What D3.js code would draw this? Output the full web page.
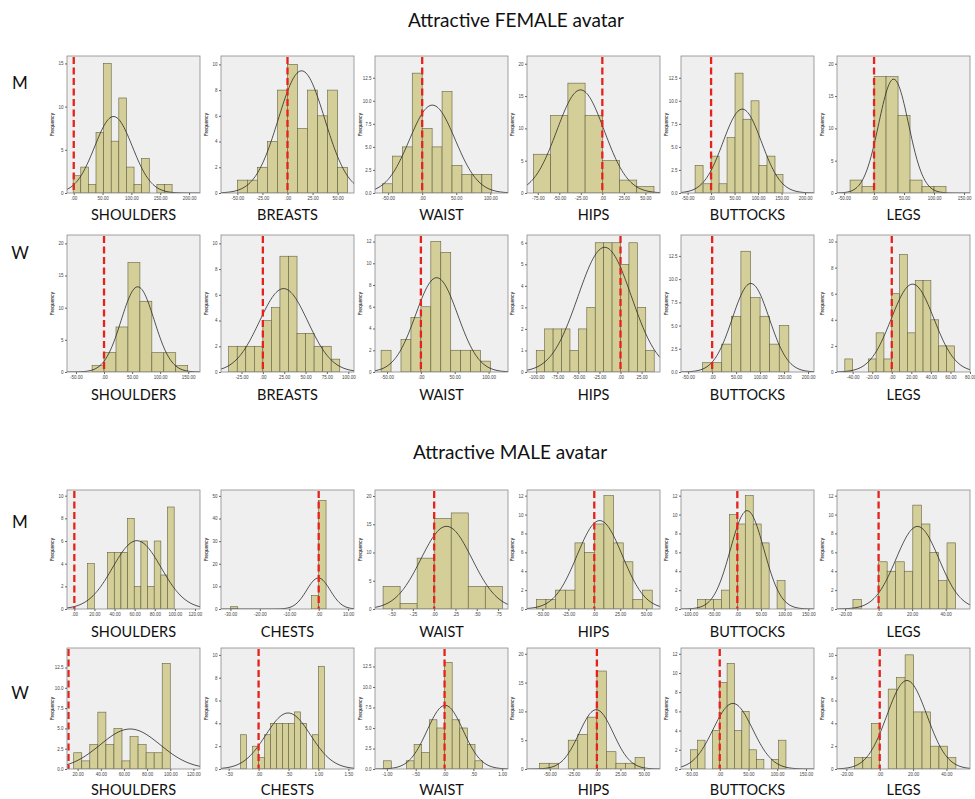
<!DOCTYPE html>
<html>
<head>
<meta charset="utf-8">
<script src="https://cdn.jsdelivr.net/npm/d3@7"></script>
<style>
  body { margin: 0; background: #fff; }
  svg { display: block; font-family: Lato, "Open Sans", sans-serif; }
  .tick text { fill: #444; }
</style>
</head>
<body>
<svg id="chart" width="975" height="799"></svg>
<script>
(function () {
  "use strict";

  // --- data (rows: female avatar M, W; male avatar M, W) ---
  var titles = ["Attractive FEMALE avatar", "Attractive MALE avatar"];
  var raters = ["M", "W", "M", "W"];
  var femaleParts = ["SHOULDERS", "BREASTS", "WAIST", "HIPS", "BUTTOCKS", "LEGS"];
  var maleParts = ["SHOULDERS", "CHESTS", "WAIST", "HIPS", "BUTTOCKS", "LEGS"];
  var partsByRow = [femaleParts, femaleParts, maleParts, maleParts];

  var binStart = [
    [-1, -50, -58.4, -80, -34, -40],
    [-21.3, -40, -58.8, -100, -20, -48],
    [13.24, -30, -0.6, -55.8, -84, -15.3],
    [16.6, -0.3, -1.056, -60.9, -51.2, -15.2]
  ];
  var binWidth = [
    [13.2, 10, 14.6, 20, 17, 20],
    [21.3, 10, 14.7, 10, 20, 8],
    [6.62, 2.5, 0.2, 9.3, 16.8, 5.1],
    [6.95, 0.1, 0.132, 10.15, 12.8, 5.07]
  ];
  var counts = [
    [
      [2, 3, 1, 7, 15, 6, 11, 3, 1, 4, 0, 1, 1],
      [1, 1, 2, 4, 8, 10, 5, 8, 6, 8, 2],
      [1, 4, 5, 13, 7, 5, 11, 3, 2, 2, 2],
      [6, 12, 17, 12, 5, 2, 1],
      [3, 1, 4, 1, 6, 13, 8, 10, 3, 4, 2],
      [2, 1, 18, 18, 12, 2, 1, 1]
    ],
    [
      [1, 3, 7, 17, 11, 3, 3, 1],
      [2, 2, 2, 2, 4, 5, 9, 9, 3, 3, 2, 2, 1],
      [2, 0, 3, 5, 6, 12, 11, 2, 2, 2, 1],
      [1, 2, 2, 2, 1, 2, 3, 6, 6, 6, 5, 6, 3, 1],
      [1, 1, 3, 6, 13, 8, 6, 3, 5],
      [1, 0, 0, 1, 3, 1, 6, 9, 3, 7, 7, 4, 2, 2]
    ],
    [
      [4, 0, 0, 5, 5, 5, 8, 2, 6, 2, 6, 3, 9],
      [1, 0, 0, 0, 0, 0, 0, 0, 0, 0, 0, 6, 48],
      [4, 1, 9, 16, 17, 4, 4],
      [1, 1, 2, 2, 7, 6, 9, 12, 7, 5, 1, 2],
      [1, 1, 1, 2, 10, 9, 12, 9, 7, 0, 3],
      [1, 0, 0, 5, 4, 5, 4, 11, 9, 6, 3, 7]
    ],
    [
      [2, 1, 3, 7, 3, 5, 1, 4, 3, 2, 2, 13],
      [3, 0, 2, 1, 3, 4, 4, 4, 4, 5, 4, 0, 3, 9],
      [1, 0, 0, 1, 3, 2, 6, 5, 13, 6, 5, 3, 1],
      [1, 1, 0, 5, 6, 9, 17, 3, 1, 1, 2],
      [2, 3, 0, 4, 9, 11, 4, 6, 2, 1, 0, 1, 3],
      [1, 1, 4, 0, 7, 8, 10, 5, 5, 2, 2, 1]
    ]
  ];
  // fitted normal curve: mean, sd
  var fitMean = [
    [69, 14, 14.9, -25.3, 66.4, 32.6],
    [60, 24.3, 23.3, -18.75, 80.6, 21.3],
    [62.2, -0.1, 0.145, 5.2, 20.8, 23.2],
    [65.4, 0.494, 0.01, -0.7, 22.9, 16.3]
  ];
  var fitSd = [
    [32.7, 23.1, 33.6, 27.5, 41.0, 24.9],
    [29.5, 28.3, 31.1, 31.7, 38.5, 21.8],
    [24.1, 4.0, 0.30, 21.8, 35.4, 12.8],
    [25.9, 0.374, 0.312, 18.1, 34.4, 12.0]
  ];
  var xDomain = [
    [[-11.7, 219], [-66.3, 66.3], [-69.3, 126], [-87.5, 67], [-64, 219], [-61.8, 160]],
    [[-66, 171], [-49, 106.7], [-67.8, 128.7], [-111, 46.9], [-65, 212.5], [-56, 80]],
    [[-7.3, 125], [-33.2, 12], [-0.695, 0.867], [-64.8, 63.3], [-119, 162], [-24.8, 54.5]],
    [[10.8, 125.7], [-0.628, 1.594], [-1.206, 1.1], [-74.3, 67.1], [-67.4, 164], [-25.6, 54.1]]
  ];
  var xTicks = [
    [[0, 50, 100, 150, 200], [-50, -25, 0, 25, 50], [-50, 0, 50, 100], [-75, -50, -25, 0, 25, 50], [-50, 0, 50, 100, 150, 200], [-50, 0, 50, 100, 150]],
    [[-50, 0, 50, 100, 150], [-25, 0, 25, 50, 75, 100], [-50, 0, 50, 100], [-100, -75, -50, -25, 0, 25], [-50, 0, 50, 100, 150, 200], [-40, -20, 0, 20, 40, 60, 80]],
    [[0, 20, 40, 60, 80, 100, 120], [-30, -20, -10, 0, 10], [-0.5, -0.25, 0, 0.25, 0.5, 0.75], [-50, -25, 0, 25, 50], [-100, -50, 0, 50, 100, 150], [-20, 0, 20, 40]],
    [[20, 40, 60, 80, 100, 120], [-0.5, 0, 0.5, 1, 1.5], [-1, -0.5, 0, 0.5, 1], [-50, -25, 0, 25, 50], [-50, 0, 50, 100, 150], [-20, 0, 20, 40]]
  ];
  var yTop = [
    [15.86, 10.65, 14.86, 21.2, 14.86, 21.2],
    [21.3, 10.65, 12.6, 6.36, 14.75, 10.5],
    [10.5, 52.6, 21.06, 12.6, 12.6, 12.6],
    [14.9, 10.6, 14.75, 21, 12.6, 10.6]
  ];
  var yStep = [
    [5, 2, 2.5, 5, 2.5, 5],
    [5, 2, 2, 1, 2.5, 2],
    [2, 10, 5, 2, 2, 2],
    [2.5, 2, 2.5, 5, 2, 2]
  ];

  // --- layout ---
  var colLeft = [67, 221, 375, 527, 681, 837];
  var panelW = 133;
  var rowTop = [56, 235, 490, 648];
  var rowH = [137, 137, 119, 121];
  var labelY = [220, 400, 637, 795];
  var raterY = [89, 259, 528, 699];
  var titleY = [27, 459];
  var titleX = [516, 510];

  var svg = d3.select("#chart");

  // SPSS style: ".00", "-.50", "50.00"
  function spssFormat(v) {
    var s = Math.abs(v).toFixed(2).replace(/^0\./, ".");
    return (v < 0 ? "-" : "") + s;
  }

  svg.selectAll(".title")
    .data(titles)
    .enter().append("text")
    .attr("class", "title")
    .attr("x", function (d, i) { return titleX[i]; })
    .attr("y", function (d, i) { return titleY[i]; })
    .attr("text-anchor", "middle")
    .attr("font-size", 19)
    .attr("fill", "#111")
    .text(function (d) { return d; });

  raters.forEach(function (r, ri) {
    svg.append("text")
      .attr("x", 20)
      .attr("y", raterY[ri])
      .attr("text-anchor", "middle")
      .attr("font-size", 17)
      .attr("fill", "#111")
      .text(r);

    partsByRow[ri].forEach(function (part, ci) {
      var H = rowH[ri];
      var W = panelW;
      var g = svg.append("g")
        .attr("transform", "translate(" + colLeft[ci] + "," + rowTop[ri] + ")");

      var x = d3.scaleLinear().domain(xDomain[ri][ci]).range([0, W]);
      var y = d3.scaleLinear().domain([0, yTop[ri][ci]]).range([H, 0]);
      var clipId = "clip-" + ri + "-" + ci;

      g.append("clipPath").attr("id", clipId)
        .append("rect").attr("width", W).attr("height", H);

      g.append("rect")
        .attr("width", W)
        .attr("height", H)
        .attr("fill", "#efefef");

      var c = counts[ri][ci];
      var start = binStart[ri][ci];
      var bw = binWidth[ri][ci];
      var bins = c.map(function (n, k) {
        return { x0: start + k * bw, x1: start + (k + 1) * bw, n: n };
      }).filter(function (b) { return b.n > 0; });

      g.append("g")
        .attr("clip-path", "url(#" + clipId + ")")
        .selectAll("rect")
        .data(bins)
        .enter().append("rect")
        .attr("x", function (b) { return x(b.x0); })
        .attr("width", function (b) { return x(b.x1) - x(b.x0); })
        .attr("y", function (b) { return y(b.n); })
        .attr("height", function (b) { return H - y(b.n); })
        .attr("fill", "#d4cf98")
        .attr("stroke", "#62603f")
        .attr("stroke-width", 0.6);

      // fitted normal curve scaled to N * bin width
      var total = d3.sum(c);
      var mu = fitMean[ri][ci];
      var sd = fitSd[ri][ci];
      var scale = total * bw / (sd * Math.sqrt(2 * Math.PI));
      var curvePts = d3.range(0, W + 0.5, 1).map(function (px) {
        var v = x.invert(px);
        var z = (v - mu) / sd;
        return [px, y(scale * Math.exp(-0.5 * z * z))];
      });
      g.append("path")
        .attr("clip-path", "url(#" + clipId + ")")
        .attr("d", d3.line()(curvePts))
        .attr("fill", "none")
        .attr("stroke", "#2a2a2a")
        .attr("stroke-width", 0.8);

      // reference line at zero (kept inside the frame)
      var zx = Math.max(1.5, Math.min(W - 1.5, x(0)));
      g.append("line")
        .attr("x1", zx).attr("x2", zx)
        .attr("y1", 1).attr("y2", H)
        .attr("stroke", "#e3231c")
        .attr("stroke-width", 2.3)
        .attr("stroke-dasharray", "7,3.5");

      g.append("rect")
        .attr("width", W)
        .attr("height", H)
        .attr("fill", "none")
        .attr("stroke", "#8a8a8a")
        .attr("stroke-width", 0.8);

      var step = yStep[ri][ci];
      var yFmt = step % 1 ? d3.format(".1f") : d3.format("d");
      var yAxis = g.append("g")
        .call(d3.axisLeft(y)
          .tickValues(d3.range(0, yTop[ri][ci] + 1e-9, step))
          .tickSize(2)
          .tickPadding(1.5)
          .tickFormat(yFmt));
      yAxis.select(".domain").remove();
      yAxis.selectAll("text").attr("font-size", 4.5);
      yAxis.selectAll("line").attr("stroke", "#666");

      var xAxis = g.append("g")
        .attr("transform", "translate(0," + H + ")")
        .call(d3.axisBottom(x)
          .tickValues(xTicks[ri][ci])
          .tickSize(2)
          .tickPadding(1.5)
          .tickFormat(spssFormat));
      xAxis.select(".domain").remove();
      xAxis.selectAll("text").attr("font-size", 4.5);
      xAxis.selectAll("line").attr("stroke", "#666");

      g.append("text")
        .attr("transform", "translate(-13," + (H / 2) + ") rotate(-90)")
        .attr("text-anchor", "middle")
        .attr("font-size", 5)
        .attr("font-weight", "bold")
        .attr("fill", "#333")
        .text("Frequency");

      svg.append("text")
        .attr("x", colLeft[ci] + W / 2)
        .attr("y", labelY[ri])
        .attr("text-anchor", "middle")
        .attr("font-size", 14.5)
        .attr("fill", "#111")
        .text(part);
    });
  });
}());
</script>
</body>
</html>
